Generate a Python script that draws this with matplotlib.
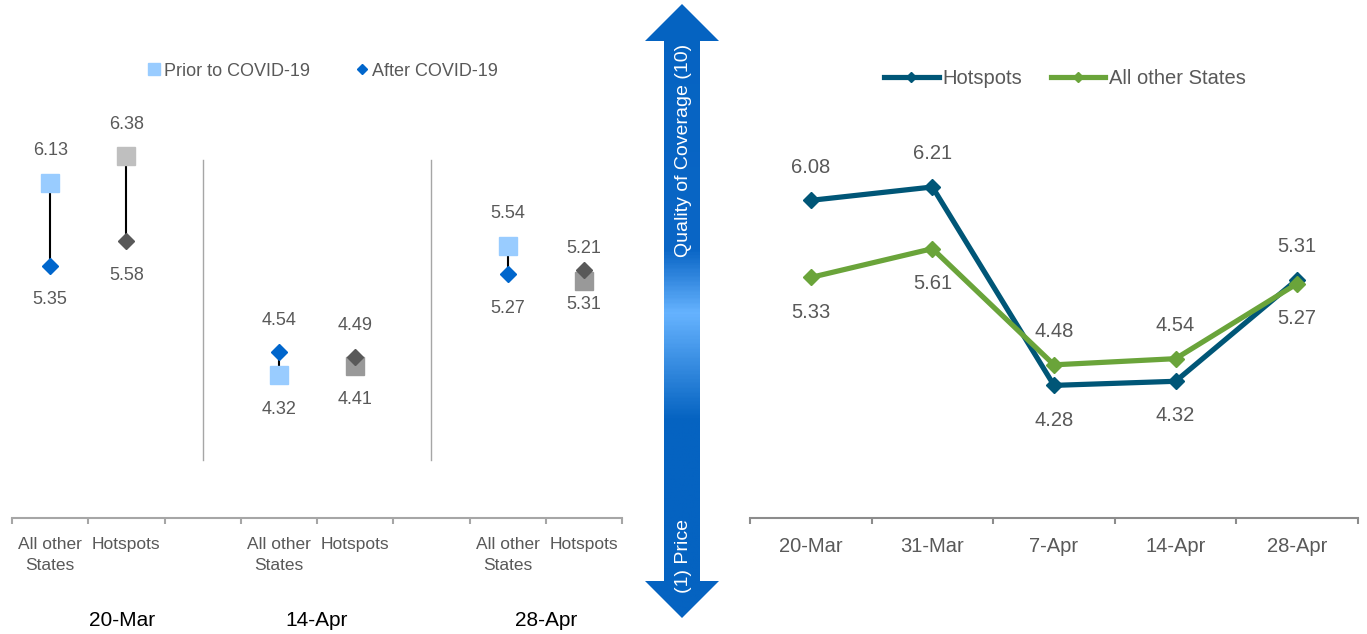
import matplotlib
matplotlib.use("Agg")
import matplotlib.pyplot as plt
import numpy as np
from matplotlib.lines import Line2D
from matplotlib.patches import Polygon
from matplotlib.colors import LinearSegmentedColormap
import matplotlib.transforms as mtransforms

plt.rcParams['font.family'] = ['Liberation Sans', 'DejaVu Sans']

# ===== Данные: левая панель (до / после COVID-19) =====
left_cats = ["All other\nStates", "Hotspots", "", "All other\nStates", "Hotspots", "",
             "All other\nStates", "Hotspots"]
left_x = [0, 1, 3, 4, 6, 7]
prior_vals = [6.13, 6.38, 4.32, 4.41, 5.54, 5.21]
after_vals = [5.35, 5.58, 4.54, 4.49, 5.27, 5.31]
prior_colors = ["#99CCFF", "#BFBFBF", "#99CCFF", "#999999", "#99CCFF", "#999999"]
after_colors = ["#0066CC", "#595959", "#0066CC", "#595959", "#0066CC", "#595959"]
prior_label_pos = ["above", "above", "below", "below", "above", "above"]
after_label_pos = ["below", "below", "above", "above", "below", "below"]
group_dates = ["20-Mar", "14-Apr", "28-Apr"]
group_x = [0.95, 3.5, 6.5]
separators_x = [2, 5]

# ===== Данные: правая панель (линии) =====
dates = ["20-Mar", "31-Mar", "7-Apr", "14-Apr", "28-Apr"]
hotspots = [6.08, 6.21, 4.28, 4.32, 5.31]
other_states = [5.33, 5.61, 4.48, 4.54, 5.27]
hot_label_pos = ["above", "above", "below", "below", "above"]
other_label_pos = ["below", "below", "above", "above", "below"]

W, H = 1367, 634
GRAY_TXT = "#595959"
fig = plt.figure(figsize=(W / 100, H / 100), dpi=100)


def px_axes(x0, x1, ytop, ybot):
    return fig.add_axes([x0 / W, (H - ybot) / H, (x1 - x0) / W, (ybot - ytop) / H])


def style_axis(ax, n, spine_color, pad):
    for s in ["left", "right", "top"]:
        ax.spines[s].set_visible(False)
    ax.spines["bottom"].set_color(spine_color)
    ax.spines["bottom"].set_linewidth(1.5)
    ax.set_yticks([])
    ax.set_xlim(-0.5, n - 0.5)
    ax.set_xticks(np.arange(-0.5, n, 1.0), minor=True)
    ax.tick_params(axis="x", which="minor", length=4, width=1.5, color=spine_color)
    ax.tick_params(axis="x", which="major", length=0, pad=pad)


def put_label(ax, x, y, text, pos, up, down, size):
    off = up if pos == "above" else -down
    ax.annotate(text, (x, y), xytext=(0, off), textcoords="offset points",
                ha="center", va="center", fontsize=size, color=GRAY_TXT)


# ===== Левая панель =====
ax1 = px_axes(12, 622, 100, 518)
style_axis(ax1, len(left_cats), "#A6A6A6", 14)
ax1.set_ylim(2.98, 2.98 + 418 / 106.4)
ax1.set_xticks(range(len(left_cats)))
ax1.set_xticklabels(left_cats, fontsize=12.5, color=GRAY_TXT, linespacing=1.45)

for sx in separators_x:
    ax1.axvline(sx, ymin=0.139, ymax=0.856, color="#A6A6A6", lw=1)

ax1.vlines(left_x, prior_vals, after_vals, color="black", lw=1.5, zorder=2)
for x, v, c in zip(left_x, prior_vals, prior_colors):
    ax1.plot(x, v, marker="s", ms=13.5, color=c, ls="none", zorder=3)
for x, v, c in zip(left_x, after_vals, after_colors):
    ax1.plot(x, v, marker="D", ms=8.5, color=c, ls="none", zorder=4)

for x, v, p in zip(left_x, prior_vals, prior_label_pos):
    put_label(ax1, x, v, f"{v:.2f}", p, 23, 24.5, 13)
for x, v, p in zip(left_x, after_vals, after_label_pos):
    put_label(ax1, x, v, f"{v:.2f}", p, 23, 24.5, 13)

tr = mtransforms.blended_transform_factory(ax1.transData, fig.transFigure)
for gx, d in zip(group_x, group_dates):
    fig.text(gx, (H - 621) / H, d, transform=tr, ha="center", va="center",
             fontsize=15, color="black")

h_prior = Line2D([], [], marker="s", ms=8, color="#99CCFF", ls="none")
h_after = Line2D([], [], marker="D", ms=5.5, color="#0066CC", ls="none")
fig.legend([h_prior, h_after], ["Prior to COVID-19", "After COVID-19"],
           loc="center", bbox_to_anchor=(323 / W, (H - 71) / H), ncol=2,
           frameon=False, fontsize=13, labelcolor=GRAY_TXT, handlelength=0.6,
           handletextpad=0.25, columnspacing=2.6)

# ===== Правая панель =====
ax2 = px_axes(750, 1358, 100, 518)
style_axis(ax2, len(dates), "#8C8C8C", 13.5)
ax2.set_ylim(2.99, 2.99 + 418 / 102.8)
ax2.set_xticks(range(len(dates)))
ax2.set_xticklabels(dates, fontsize=14.5, color=GRAY_TXT)

xr = np.arange(len(dates))
ax2.plot(xr, hotspots, color="#005677", lw=3.75, marker="D", ms=8.5,
         label="Hotspots", zorder=3)
ax2.plot(xr, other_states, color="#6AA43A", lw=3.75, marker="D", ms=8.5,
         label="All other States", zorder=4)

for x, v, p in zip(xr, hotspots, hot_label_pos):
    put_label(ax2, x, v, f"{v:.2f}", p, 24, 25, 14.5)
for x, v, p in zip(xr, other_states, other_label_pos):
    put_label(ax2, x, v, f"{v:.2f}", p, 24, 25, 14.5)

ax2.legend(loc="center", bbox_to_anchor=(1065 / W, (H - 79) / H),
           bbox_transform=fig.transFigure, ncol=2, frameon=False,
           fontsize=14.5, labelcolor=GRAY_TXT, handlelength=2.7,
           handletextpad=0.2, columnspacing=1.4, markerscale=0.6)

# ===== Стрелка по центру =====
axa = fig.add_axes([0, 0, 1, 1])
axa.set_xlim(0, W)
axa.set_ylim(H, 0)
axa.axis("off")
axa.patch.set_alpha(0)

arrow_pts = [(682, 4), (719, 41), (700, 41), (700, 581), (719, 581), (682, 618),
             (645, 581), (664, 581), (664, 41), (645, 41)]
poly = Polygon(arrow_pts, closed=True, facecolor="none", edgecolor="none")
axa.add_patch(poly)

stops = [(0.0, "#0563C1"), (250 / H, "#0A66C6"), (313 / H, "#66B3FF"),
         (420 / H, "#0563C1"), (1.0, "#0563C1")]
cmap = LinearSegmentedColormap.from_list("arrow", stops)
grad = np.linspace(0, 1, 400).reshape(-1, 1)
im = axa.imshow(grad, cmap=cmap, aspect="auto", extent=(640, 725, H, 0),
                origin="upper", vmin=0, vmax=1)
im.set_clip_path(poly)

axa.text(683, 150, "Quality of Coverage (10)", rotation=90, ha="center",
         va="center", color="white", fontsize=14)
axa.text(683, 556, "(1) Price", rotation=90, ha="center", va="center",
         color="white", fontsize=14)

fig.savefig("out.png", dpi=100)
